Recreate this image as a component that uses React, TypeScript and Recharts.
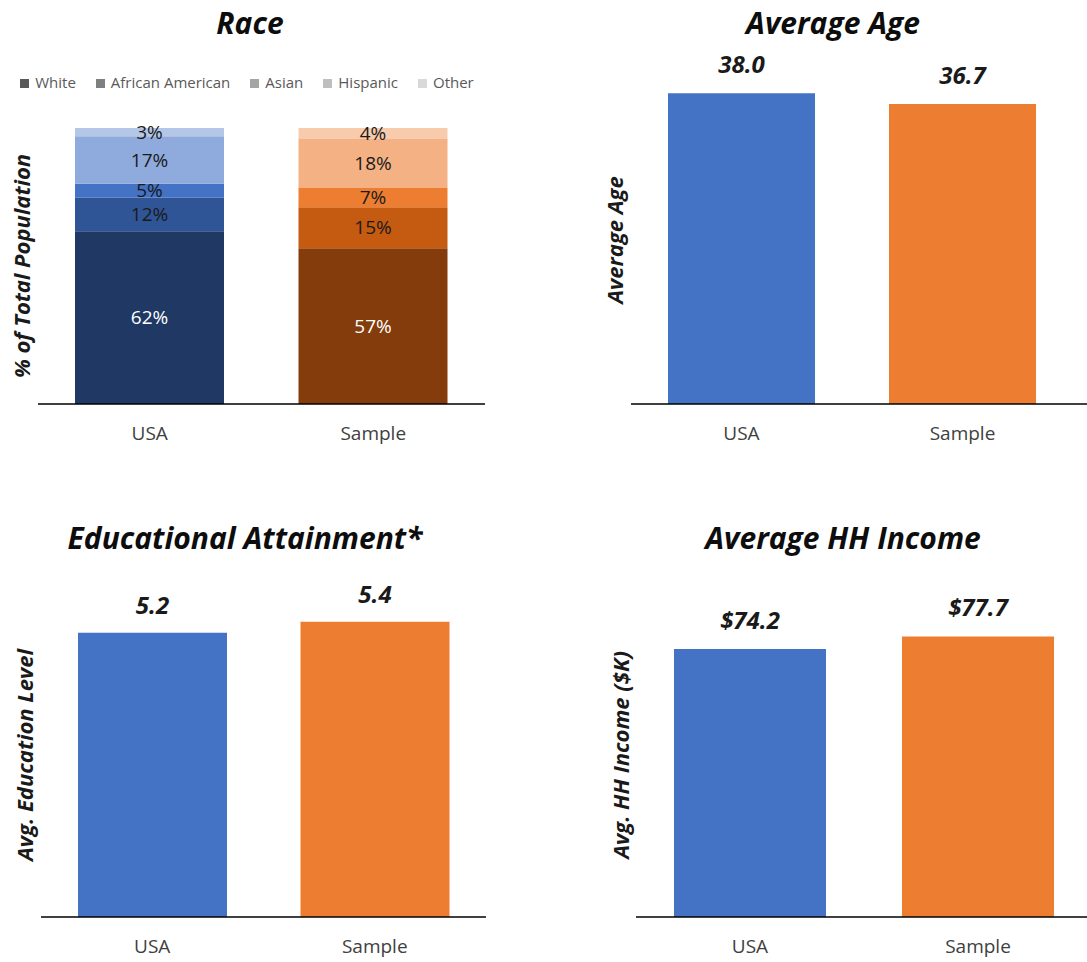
import React from 'react';
import { BarChart, Bar, XAxis, YAxis, Cell, LabelList, Legend } from 'recharts';

// ---- data ----
const categories = ['USA', 'Sample'];
const raceGroups = ['White', 'African American', 'Asian', 'Hispanic', 'Other'];
const whiteShare = [62, 57];
const africanAmericanShare = [12, 15];
const asianShare = [5, 7];
const hispanicShare = [17, 18];
const otherShare = [3, 4];
const averageAge = [38.0, 36.7];
const educationLevel = [5.2, 5.4];
const hhIncome = [74.2, 77.7];

// ---- styles ----
const FONT = "'Open Sans', 'Noto Sans', sans-serif";
const BLUE = '#4472C4';
const ORANGE = '#ED7D31';
const raceKeys = ['white', 'africanAmerican', 'asian', 'hispanic', 'other'];
const raceLegendGray = ['#595959', '#7f7f7f', '#a5a5a5', '#bfbfbf', '#d9d9d9'];
const raceUsaColors = ['#203864', '#2F5597', '#4472C4', '#8FAADC', '#B4C7E7'];
const raceSampleColors = ['#843C0C', '#C55A11', '#ED7D31', '#F4B183', '#F8CBAD'];
const raceLabelFill = ['#ffffff', '#1a1a1a', '#1a1a1a', '#1a1a1a', '#1a1a1a'];

const raceSeries = [whiteShare, africanAmericanShare, asianShare, hispanicShare, otherShare];
const raceData = categories.map((name, i) => {
  const row: any = { name };
  raceKeys.forEach((k, j) => {
    row[k] = raceSeries[j][i];
  });
  return row;
});
const ageData = categories.map((name, i) => ({ name, value: averageAge[i] }));
const eduData = categories.map((name, i) => ({ name, value: educationLevel[i] }));
const incomeData = categories.map((name, i) => ({ name, value: hhIncome[i] }));
const barColors = [BLUE, ORANGE];

const tickStyle = { fill: '#404040', fontSize: 19 };
const axisLine = { stroke: '#000', strokeWidth: 1.5 };

function Title({ text, cx, cy }: { text: string; cx: number; cy: number }) {
  return (
    <div
      style={{
        position: 'absolute',
        left: cx,
        top: cy,
        transform: 'translate(-50%, -50%)',
        fontSize: 30,
        fontWeight: 700,
        fontStyle: 'italic',
        color: '#0d0d0d',
        whiteSpace: 'nowrap',
        lineHeight: 1,
      }}
    >
      {text}
    </div>
  );
}

function YLabel({ text, cx, cy, weight = 700 }: { text: string; cx: number; cy: number; weight?: number }) {
  return (
    <div
      style={{
        position: 'absolute',
        left: cx,
        top: cy,
        transform: 'translate(-50%, -50%) rotate(-90deg)',
        fontSize: 22,
        fontWeight: weight,
        fontStyle: 'italic',
        color: '#1a1a1a',
        whiteSpace: 'nowrap',
        lineHeight: 1,
      }}
    >
      {text}
    </div>
  );
}

function SimpleBars({ data, width, height, margin, domain, barSize, padRight, fmt, offset }: any) {
  return (
    <BarChart width={width} height={height} data={data} margin={margin}>
      <XAxis
        dataKey="name"
        height={40}
        tickLine={false}
        axisLine={axisLine}
        tick={tickStyle}
        tickMargin={17}
        padding={{ left: 0, right: padRight }}
      />
      <YAxis hide domain={domain} />
      <Bar dataKey="value" barSize={barSize} isAnimationActive={false}>
        {data.map((_: any, i: number) => (
          <Cell key={i} fill={barColors[i]} />
        ))}
        <LabelList
          dataKey="value"
          position="top"
          offset={offset}
          formatter={fmt}
          fill="#1a1a1a"
          fontSize={24}
          fontWeight={700}
          fontStyle="italic"
        />
      </Bar>
    </BarChart>
  );
}

export default function App() {
  return (
    <div
      style={{
        position: 'absolute',
        left: 0,
        top: 0,
        width: 1087,
        height: 962,
        overflow: 'hidden',
        background: '#fff',
        fontFamily: FONT,
      }}
    >
      {/* Race */}
      <div style={{ position: 'absolute', left: 0, top: 0 }}>
        <BarChart
          width={540}
          height={460}
          data={raceData}
          stackOffset="expand"
          margin={{ top: 128, right: 55, bottom: 16, left: 38 }}
        >
          <XAxis
            dataKey="name"
            height={40}
            tickLine={false}
            axisLine={axisLine}
            tick={tickStyle}
            tickMargin={17}
          />
          <YAxis hide domain={[0, 1]} />
          <Legend
            verticalAlign="middle"
            align="center"
            layout="horizontal"
            iconType="square"
            iconSize={9}
            itemSorter={(item: any) => raceGroups.indexOf(item.value)}
            wrapperStyle={{ top: 72, left: 9, width: 496, fontSize: 15, lineHeight: '20px' }}
            formatter={(value: any) => (
              <span style={{ color: '#595959', marginLeft: 2, marginRight: 10 }}>{value}</span>
            )}
          />
          {raceKeys.map((k, j) => (
            <Bar
              key={k}
              dataKey={k}
              name={raceGroups[j]}
              stackId="race"
              fill={raceLegendGray[j]}
              barSize={149}
              isAnimationActive={false}
            >
              <Cell fill={raceUsaColors[j]} />
              <Cell fill={raceSampleColors[j]} />
              <LabelList
                dataKey={k}
                position="center"
                formatter={(v: any) => `${v}%`}
                fill={raceLabelFill[j]}
                fontSize={19}
              />
            </Bar>
          ))}
        </BarChart>
      </div>
      <Title text="Race" cx={250} cy={23} />
      <YLabel text="% of Total Population" cx={21} cy={266} />

      {/* Average Age */}
      <div style={{ position: 'absolute', left: 540, top: 0 }}>
        <SimpleBars
          data={ageData}
          width={547}
          height={460}
          margin={{ top: 77, right: 0, bottom: 16, left: 91 }}
          domain={[0, 40]}
          barSize={147}
          padRight={14}
          offset={20}
          fmt={(v: any) => Number(v).toFixed(1)}
        />
      </div>
      <Title text="Average Age" cx={833} cy={23} />
      <YLabel text="Average Age" cx={614} cy={240} />

      {/* Educational Attainment */}
      <div style={{ position: 'absolute', left: 0, top: 470 }}>
        <SimpleBars
          data={eduData}
          width={540}
          height={492}
          margin={{ top: 119, right: 54, bottom: 5, left: 41 }}
          domain={[0, 6]}
          barSize={149}
          padRight={0}
          offset={19}
          fmt={(v: any) => Number(v).toFixed(1)}
        />
      </div>
      <Title text="Educational Attainment*" cx={245} cy={538} />
      <YLabel text="Avg. Education Level" cx={24} cy={755} />

      {/* Average HH Income */}
      <div style={{ position: 'absolute', left: 540, top: 470 }}>
        <SimpleBars
          data={incomeData}
          width={552}
          height={492}
          margin={{ top: 122, right: 0, bottom: 5, left: 96 }}
          domain={[0, 90]}
          barSize={152}
          padRight={0}
          offset={20}
          fmt={(v: any) => `$${Number(v).toFixed(1)}`}
        />
      </div>
      <Title text="Average HH Income" cx={843} cy={538} />
      <YLabel text="Avg. HH Income ($K)" cx={620} cy={755} />
    </div>
  );
}
